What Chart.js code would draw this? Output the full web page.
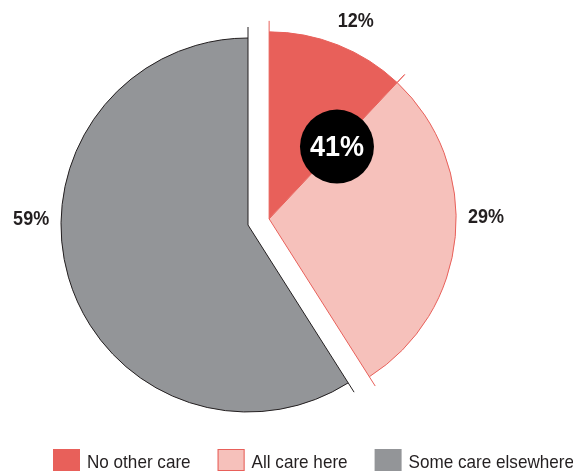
<!DOCTYPE html>
<html>
<head>
<meta charset="utf-8">
<script src="https://cdn.jsdelivr.net/npm/chart.js@4.4.1/dist/chart.umd.min.js"></script>
<style>
  html, body { margin: 0; padding: 0; background: #fff; }
  #wrap { position: relative; width: 573px; height: 471px; }
</style>
</head>
<body>
<div id="wrap"><canvas id="careChart"></canvas></div>
<script>
// where patients get their care
const categories = ["No other care", "All care here", "Some care elsewhere"];
const shares = [12, 29, 59];
// first two slices are pulled out together and summed in the badge
const groupedSlices = [0, 1];

const FONT = '"Liberation Sans", Arial, sans-serif';
const INK = "#231F20";
const fills = ["#E8605A", "#F6C1BB", "#939598"];
const edges = ["#E8605A", "#E8605A", INK];
// label direction (deg clockwise from 12 o'clock) per slice
const labelDirs = [23.5, 89, 272];

const pullOut = 22;
const tickLen = 11;
const narrow = 0.9; // condensed look for all text

const toCanvasAngle = deg => (deg - 90) * Math.PI / 180;

// draws text squeezed horizontally; align is left or center
function condensedText(ctx, text, x, y, align) {
  ctx.save();
  ctx.translate(x, y);
  ctx.scale(narrow, 1);
  ctx.textAlign = align;
  ctx.fillText(text, 0, 0);
  ctx.restore();
  return ctx.measureText(text).width * narrow;
}

const explodePlugin = {
  id: "explodeGroup",
  afterUpdate(chart) {
    const arcs = chart.getDatasetMeta(0).data;
    const first = arcs[groupedSlices[0]];
    const last = arcs[groupedSlices[groupedSlices.length - 1]];
    const mid = (first.startAngle + last.endAngle) / 2;
    const dx = Math.cos(mid) * pullOut;
    const dy = Math.sin(mid) * pullOut;
    groupedSlices.forEach(i => { arcs[i].x += dx; arcs[i].y += dy; });
  },
  afterDatasetsDraw(chart) {
    const ctx = chart.ctx;
    const arcs = chart.getDatasetMeta(0).data;

    // short leader ticks where each slice edge meets the rim
    ctx.save();
    ctx.lineWidth = 1;
    arcs.forEach((arc, i) => {
      ctx.strokeStyle = edges[i];
      [arc.startAngle, arc.endAngle].forEach(a => {
        const r0 = arc.outerRadius, r1 = arc.outerRadius + tickLen;
        ctx.beginPath();
        ctx.moveTo(arc.x + Math.cos(a) * r0, arc.y + Math.sin(a) * r0);
        ctx.lineTo(arc.x + Math.cos(a) * r1, arc.y + Math.sin(a) * r1);
        ctx.stroke();
      });
    });
    ctx.restore();

    // percentage labels outside the pie
    ctx.save();
    ctx.fillStyle = INK;
    ctx.font = "bold 20px " + FONT;
    ctx.textBaseline = "middle";
    arcs.forEach((arc, i) => {
      const a = toCanvasAngle(labelDirs[i]);
      const r = arc.outerRadius + 30;
      condensedText(ctx, shares[i] + "%", arc.x + Math.cos(a) * r, arc.y + Math.sin(a) * r + 2, "center");
    });
    ctx.restore();

    // black badge with the combined share of the pulled-out slices
    const a0 = arcs[groupedSlices[0]];
    const total = groupedSlices.reduce((s, i) => s + shares[i], 0);
    const bx = a0.x + Math.cos(a0.endAngle) * a0.outerRadius * 0.53;
    const by = a0.y + Math.sin(a0.endAngle) * a0.outerRadius * 0.53;
    ctx.save();
    ctx.fillStyle = "#000";
    ctx.beginPath();
    ctx.arc(bx, by, 37, 0, Math.PI * 2);
    ctx.fill();
    ctx.fillStyle = "#fff";
    ctx.font = "bold 30px " + FONT;
    ctx.textBaseline = "middle";
    condensedText(ctx, total + "%", bx, by + 1, "center");
    ctx.restore();
  },
  afterDraw(chart) {
    // legend row along the bottom edge
    const ctx = chart.ctx;
    ctx.save();
    ctx.font = "19px " + FONT;
    ctx.textBaseline = "alphabetic";
    let x = 53;
    const boxTop = 449, boxW = 27, boxH = 22;
    categories.forEach((name, i) => {
      ctx.fillStyle = fills[i];
      ctx.fillRect(x, boxTop, boxW, boxH);
      if (i === 1) {
        ctx.strokeStyle = edges[i];
        ctx.lineWidth = 1;
        ctx.strokeRect(x + 0.5, boxTop + 0.5, boxW - 1, boxH - 1);
      }
      x += boxW + 7;
      ctx.fillStyle = INK;
      x += condensedText(ctx, name, x, 468, "left") + 27;
    });
    ctx.restore();
  }
};

new Chart(document.getElementById("careChart"), {
  type: "pie",
  data: {
    labels: categories,
    datasets: [{
      data: shares,
      backgroundColor: fills,
      borderColor: edges,
      borderWidth: 1
    }]
  },
  options: {
    responsive: true,
    maintainAspectRatio: false,
    animation: false,
    events: [],
    radius: 187,
    layout: { padding: { left: 0, right: 77, top: 0, bottom: 21 } },
    plugins: {
      legend: { display: false },
      tooltip: { enabled: false }
    }
  },
  plugins: [explodePlugin]
});
</script>
</body>
</html>
